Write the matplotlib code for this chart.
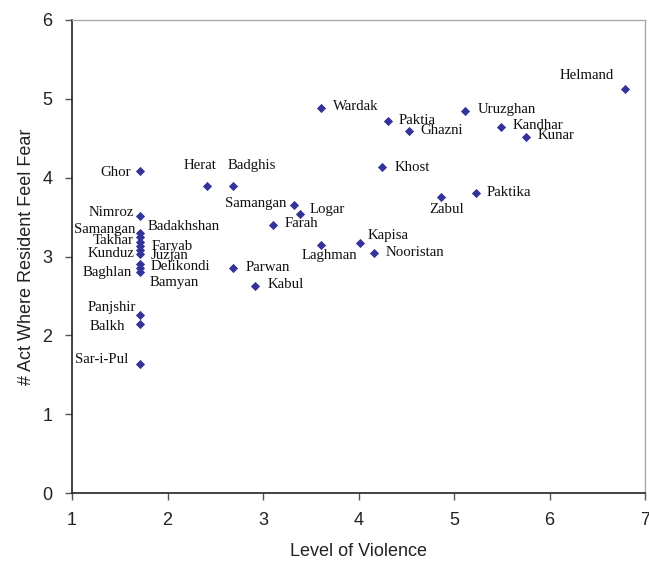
import matplotlib
matplotlib.use("Agg")
import matplotlib.pyplot as plt

# province data
provinces = ["Ghor", "Herat", "Badghis", "Nimroz", "Samangan", "Badakhshan",
             "Takhar", "Faryab", "Kunduz", "Juzjan", "Delikondi", "Baghlan",
             "Bamyan", "Panjshir", "Balkh", "Sar-i-Pul", "Wardak", "Paktia",
             "Ghazni", "Khost", "Samangan", "Logar", "Farah", "Laghman",
             "Kapisa", "Nooristan", "Parwan", "Kabul", "Zabul", "Helmand",
             "Uruzghan", "Kandhar", "Kunar", "Paktika"]
violence = [1.71, 2.41, 2.69, 1.71, 1.71, 1.71,
            1.71, 1.71, 1.71, 1.71, 1.71, 1.71,
            1.71, 1.71, 1.71, 1.71, 3.61, 4.31,
            4.53, 4.25, 3.32, 3.39, 3.10, 3.61,
            4.02, 4.16, 2.69, 2.92, 4.86, 6.79,
            5.12, 5.49, 5.75, 5.23]
fear = [4.08, 3.89, 3.90, 3.52, 3.30, 3.25,
        3.18, 3.13, 3.08, 3.03, 2.91, 2.85,
        2.80, 2.26, 2.14, 1.64, 4.89, 4.72,
        4.59, 4.13, 3.65, 3.54, 3.40, 3.15,
        3.17, 3.05, 2.85, 2.62, 3.76, 5.13,
        4.85, 4.64, 4.52, 3.80]

# label placement (pixels from marker) and alignment
label_offsets = [(-9, -1), (-7, 21), (-6, 20), (-6, 3), (-4, 3), (8, 10),
                 (-6, 2), (12, 0), (-5, -3), (11, -1), (11, -3), (-8, -4),
                 (10, -10), (-4, 7), (-15, -2), (-11, 4), (12, 1), (11, 0),
                 (11, 1), (12, 0), (-7, 2), (9, 4), (12, 1), (8, -11),
                 (7, 8), (12, 0), (12, 1), (12, 2), (6, -13), (-11, 13),
                 (12, 1), (12, 2), (12, 1), (11, 1)]
label_ha = ["right", "center", "left", "right", "right", "left",
            "right", "left", "right", "left", "left", "right",
            "left", "right", "right", "right", "left", "left",
            "left", "left", "right", "left", "left", "center",
            "left", "left", "left", "left", "center", "right",
            "left", "left", "left", "left"]

plt.rcParams["font.family"] = "Liberation Sans"

fig = plt.figure(figsize=(6.49, 5.61), dpi=100)
ax = fig.add_axes([72 / 649, 1 - 493 / 561, 573 / 649, 473 / 561])

ax.scatter(violence, fear, marker="D", s=22, color="#333399", zorder=3,
           linewidths=0)

for name, x, y, (dx, dy), ha in zip(provinces, violence, fear,
                                     label_offsets, label_ha):
    ax.annotate(name, xy=(x, y), xytext=(dx, dy), textcoords="offset pixels",
                ha=ha, va="center", fontsize=10.7, color="#111111",
                family="Liberation Serif")

ax.set_xlim(1, 7)
ax.set_ylim(0, 6)
ax.set_xticks(range(1, 8))
ax.set_yticks(range(0, 7))
ax.set_xlabel("Level of Violence", fontsize=13, color="#222222", labelpad=10)
ax.set_ylabel("# Act Where Resident Feel Fear", fontsize=13, color="#222222",
              labelpad=5)

ax.tick_params(axis="both", direction="out", length=5, width=1,
               colors="#555555", labelsize=13, labelcolor="#222222")
ax.tick_params(axis="x", pad=9)
ax.tick_params(axis="y", pad=9)

for side in ["left", "bottom"]:
    ax.spines[side].set_color("#222222")
    ax.spines[side].set_linewidth(1.2)
for side in ["top", "right"]:
    ax.spines[side].set_color("#aaaaaa")
    ax.spines[side].set_linewidth(1)

fig.savefig("out.png", dpi=100)
